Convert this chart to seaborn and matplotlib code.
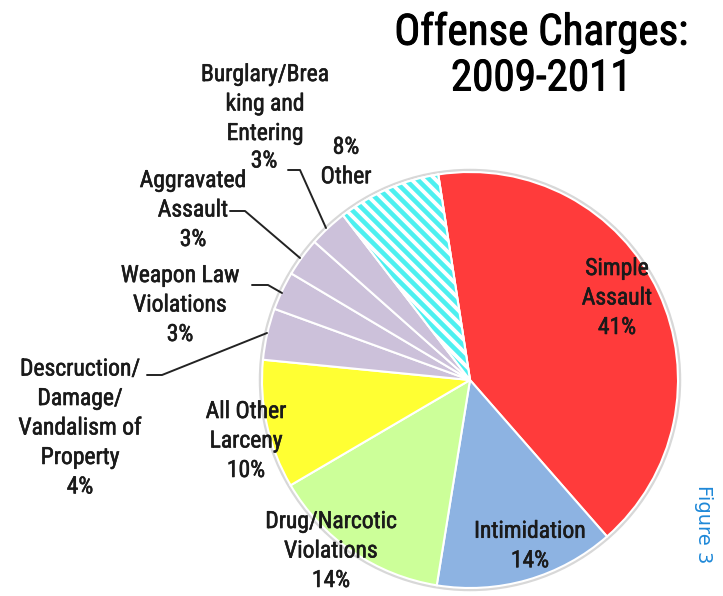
import numpy as np
import matplotlib
matplotlib.use("Agg")
import matplotlib.pyplot as plt
import matplotlib.patheffects as pe
import seaborn as sns
from matplotlib.patches import Wedge, Circle
from matplotlib import font_manager

sns.set_theme(style="white")

categories = ["Simple Assault", "Intimidation", "Drug/Narcotic Violations", "All Other Larceny",
              "Descruction/Damage/Vandalism of Property", "Weapon Law Violations",
              "Aggravated Assault", "Burglary/Breaking and Entering", "Other"]
values = [41, 14, 14, 10, 4, 3, 3, 3, 8]
names = ["Simple\nAssault", "Intimidation", "Drug/Narcotic\nViolations",
         "All Other\nLarceny", "Descruction/\nDamage/\nVandalism of\nProperty",
         "Weapon Law\nViolations", "Aggravated\nAssault",
         "Burglary/Brea\nking and\nEntering", "Other"]
pct_labels = ["41%", "14%", "14%", "10%", "4%", "3%", "3%", "3%", "8%"]
colors = ["#FF3B3B", "#8DB3E2", "#CCFF99", "#FFFF33", "#CCC1DA", "#CCC1DA", "#CCC1DA", "#CCC1DA", "white"]

avail = {f.name for f in font_manager.fontManager.ttflist}
fam = None
for cand in ["Roboto Condensed", "Liberation Sans Narrow", "DejaVu Sans Condensed", "Liberation Sans"]:
    if cand in avail:
        fam = cand
        break
plt.rcParams['font.family'] = [fam, 'DejaVu Sans']

W, H = 723, 596
fig = plt.figure(figsize=(7.23, 5.96), dpi=100)
ax = fig.add_axes([0, 0, 1, 1])

def P(x, y):
    return (x, H - y)

cx, cy = P(470, 380)
R = 208
ax.add_patch(Circle((cx, cy), R + 1.5, facecolor='none', edgecolor='#d8d8d8', lw=2.5, zorder=0))
wedges, _ = ax.pie(values, colors=colors, startangle=98.8, counterclock=False,
                   center=(cx, cy), radius=R, frame=True,
                   wedgeprops=dict(edgecolor='white', linewidth=1.5))
ax.set_xlim(0, W)
ax.set_ylim(0, H)
ax.set_aspect('equal')
ax.axis('off')

# stripes for "Other"
ow = wedges[-1]
for off in np.arange(-800, 800, 12):
    xs = np.array([cx + off - 300, cx + off + 300])
    ys = np.array([cy + 300, cy - 300])
    ln, = ax.plot(xs, ys, color='#4DF0F0', lw=3.3, solid_capstyle='butt', zorder=2)
    ln.set_clip_path(ow)
ow.set_zorder(1)
ax.add_patch(Wedge((cx, cy), R, ow.theta1, ow.theta2, facecolor='none', edgecolor='white', lw=1.5, zorder=3))

fs = 17
ls = 1.36
thick = [pe.withStroke(linewidth=0.4, foreground='#1a1a1a')]
full = [n + "\n" + p for n, p in zip(names, pct_labels)]
full[-1] = pct_labels[-1] + "\n" + names[-1]
pos = [(617, 298), (530, 546), (331, 551), (246, 441), (80, 428), (180, 305), (193, 210), None, (346, 162)]
for lab, xy in zip(full, pos):
    if xy is None:
        continue
    ax.text(*P(*xy), lab, ha='center', va='center', fontsize=fs, linespacing=ls,
            color='#1a1a1a', path_effects=thick, zorder=5)
# Burglary label: name block and percentage placed separately
ax.text(*P(265, 104), names[7], ha='center', va='center', fontsize=fs, linespacing=ls,
        color='#1a1a1a', path_effects=thick, zorder=5)
ax.text(*P(264, 161), pct_labels[7], ha='center', va='center', fontsize=fs,
        color='#1a1a1a', path_effects=thick, zorder=5)

leaders = [
    [(147, 375), (162, 375), (267, 333)],
    [(252, 285), (268, 285), (282, 293)],
    [(230, 211), (245, 211), (300, 258)],
    [(288, 170), (300, 170), (326, 228)],
]
for pts in leaders:
    xs = [p[0] for p in pts]
    ys = [H - p[1] for p in pts]
    ax.plot(xs, ys, color='#222222', lw=1.4, zorder=5)

ax.text(*P(541, 56), "Offense Charges:\n2009-2011", ha='center', va='center', fontsize=31,
        linespacing=1.15, color='black', path_effects=[pe.withStroke(linewidth=0.7, foreground='black')],
        zorder=5)
ax.text(*P(703, 524), "Figure 3", rotation=-90, ha='center', va='center', fontsize=14,
        color='#1E88D8', family=['DejaVu Sans'], zorder=5)

fig.savefig("out.png", dpi=100)
